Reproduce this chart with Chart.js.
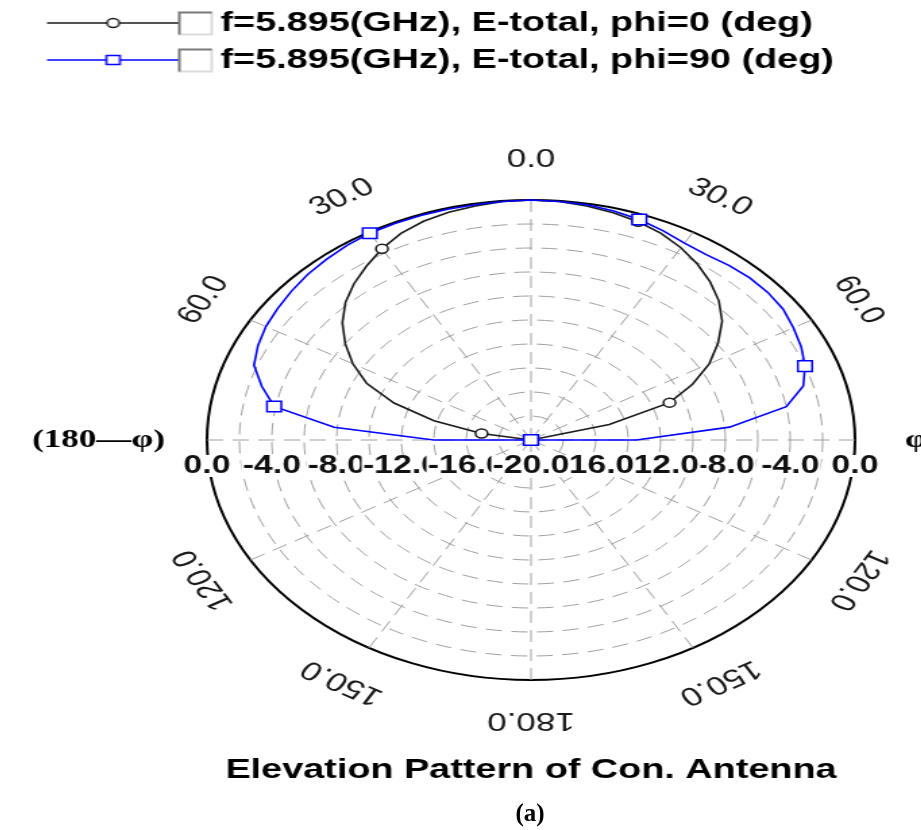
<!DOCTYPE html>
<html>
<head>
<meta charset="utf-8">
<script src="https://cdn.jsdelivr.net/npm/chart.js@4.4.1/dist/chart.umd.min.js"></script>
<style>
  html, body { margin: 0; padding: 0; background: #fff; }
  body { width: 921px; height: 830px; overflow: hidden; position: relative; }
  /* the original plot is stretched sideways, so draw it square and widen it */
  #plot { position: absolute; left: 0; top: 0; transform-origin: 0 0; transform: translateX(31.5px) scaleX(1.35); }
  #caption { position: absolute; left: 430px; width: 200px; top: 798px; text-align: center;
             font-family: "Liberation Serif", "Times New Roman", serif; font-weight: bold;
             font-size: 25px; line-height: 30px; color: #000; }
</style>
</head>
<body>
<canvas id="plot" width="740" height="800"></canvas>
<div id="caption">(a)</div>
<script>
Chart.defaults.font.family = '"Liberation Sans", Arial, sans-serif';

// sample angle, clockwise from top (0..180 = phi side, 185..355 = 180-phi side)
const angles = [
    0,   5,  10,  15,  20,  25,  30,  35,  40,  45,  50,  55,
   60,  65,  70,  75,  80,  85,  90,  95, 100, 105, 110, 115,
  120, 125, 130, 135, 140, 145, 150, 155, 160, 165, 170, 175,
  180, 185, 190, 195, 200, 205, 210, 215, 220, 225, 230, 235,
  240, 245, 250, 255, 260, 265, 270, 275, 280, 285, 290, 295,
  300, 305, 310, 315, 320, 325, 330, 335, 340, 345, 350, 355
];

// E-total in dB, phi = 0 cut
const ePhi0 = [
  0, -0.05, -0.2, -0.4, -0.65, -1.0, -1.5, -2.1, -2.8, -3.6, -4.6, -5.9,
  -7.3, -9.0, -10.9, -15.0, -20, -20, -20, -20, -20, -20, -20, -20,
  -20, -20, -20, -20, -20, -20, -20, -20, -20, -20, -20, -20,
  -20, -20, -20, -20, -20, -20, -20, -20, -20, -20, -20, -20,
  -20, -20, -20, -20, -20, -20, -20, -20, -16.9, -13.8, -11.0, -8.8,
  -7.3, -6.0, -4.8, -3.8, -3.0, -2.3, -1.6, -1.0, -0.6, -0.35, -0.2, -0.05
];

// E-total in dB, phi = 90 cut
const ePhi90 = [
  0, -0.05, -0.1, -0.25, -0.45, -0.75, -1.05, -1.15, -1.0, -0.9, -0.9, -1.0,
  -1.3, -1.6, -2.0, -2.6, -4.0, -7.7, -13.5, -20, -20, -20, -20, -20,
  -20, -20, -20, -20, -20, -20, -20, -20, -20, -20, -20, -20,
  -20, -20, -20, -20, -20, -20, -20, -20, -20, -20, -20, -20,
  -20, -20, -20, -20, -20, -20, -14, -7.8, -3.9, -2.8, -1.8, -1.4,
  -1.1, -0.9, -0.7, -0.5, -0.35, -0.2, -0.1, -0.1, -0.1, -0.1, -0.1, -0.05
];

const markerAngles = [20, 70, 120, 170, 180, 230, 280, 330];
const seriesNames = ['f=5.895(GHz), E-total, phi=0 (deg)', 'f=5.895(GHz), E-total, phi=90 (deg)'];

const angleTickAngles = [0, 30, 60, 120, 150, 180, 210, 240, 300, 330];
const angleTickText = ['0.0', '30.0', '60.0', '120.0', '150.0', '180.0', '150.0', '120.0', '60.0', '30.0'];
const dbTickValues = [0, -4, -8, -12, -16, -20];
const dbTickText = ['0.0', '-4.0', '-8.0', '-12.0', '-16.0', '-20.0'];

// legend symbol: line + marker + little sunken checkbox
function legendSymbol(color, marker) {
    const c = document.createElement('canvas');
    c.width = 136; c.height = 28;
    const g = c.getContext('2d');
    g.strokeStyle = color;
    g.lineWidth = 1.6;
    g.beginPath(); g.moveTo(12, 14); g.lineTo(109, 14); g.stroke();
    g.fillStyle = '#fff';
    g.lineWidth = 1.5;
    g.beginPath();
    if (marker === 'circle') g.arc(61, 14, 4.5, 0, 2 * Math.PI);
    else g.rect(56, 9.5, 10, 9);
    g.fill(); g.stroke();
    g.fillStyle = '#fff';
    g.fillRect(109, 2.5, 25, 23);
    g.lineWidth = 2;
    g.strokeStyle = '#dcdcdc';
    g.beginPath(); g.moveTo(134, 2.5); g.lineTo(134, 25.5); g.lineTo(109, 25.5); g.stroke();
    g.strokeStyle = '#7a7a7a';
    g.beginPath(); g.moveTo(110, 25.5); g.lineTo(110, 3.5); g.lineTo(134, 3.5); g.stroke();
    return c;
}
const legendSymbols = [legendSymbol('#1a1a1a', 'circle'), legendSymbol('#0000ff', 'rect')];

// rotated angle labels and the dB labels along the horizontal axis
const polarText = {
    id: 'polarText',
    afterDraw(chart) {
        const r = chart.scales.r;
        const ctx = chart.ctx;
        const step = 360 / angles.length;
        ctx.save();
        ctx.fillStyle = '#1a1a1a';
        ctx.textAlign = 'center';
        ctx.textBaseline = 'middle';
        ctx.font = '26px "Liberation Sans", Arial, sans-serif';
        angleTickAngles.forEach((a, k) => {
            const p = r.getPointPosition(a / step, r.drawingArea + 40);
            ctx.save();
            ctx.translate(p.x, p.y);
            ctx.rotate(a * Math.PI / 180);
            ctx.fillText(angleTickText[k], 0, 0);
            ctx.restore();
        });

        ctx.fillStyle = '#000';
        ctx.font = 'bold 26px "Liberation Serif", "Times New Roman", serif';
        let p = r.getPointPosition(90 / step, r.drawingArea + 37);
        ctx.textAlign = 'left';
        ctx.fillText('φ', p.x, p.y);
        p = r.getPointPosition(270 / step, r.drawingArea + 31);
        ctx.textAlign = 'right';
        ctx.fillText('(180—φ)', p.x, p.y);

        // white backdrops make them overlap like in the original
        ctx.font = 'bold 25px "Liberation Sans", Arial, sans-serif';
        ctx.textAlign = 'center';
        const drawDb = (text, x, y) => {
            const w = ctx.measureText(text).width;
            ctx.fillStyle = '#fff';
            ctx.fillRect(x - w / 2 - 1, y - 11, w + 2, 22);
            ctx.fillStyle = '#111';
            ctx.fillText(text, x, y);
        };
        [270, 90].forEach(side => {
            dbTickValues.forEach((v, k) => {
                if (v === r.min) return;
                const q = r.getPointPosition(side / step, r.getDistanceFromCenterForValue(v));
                drawDb(dbTickText[k], q.x, q.y + 26);
            });
        });
        drawDb(dbTickText[dbTickValues.indexOf(r.min)], r.xCenter, r.yCenter + 26);
        ctx.restore();
    }
};

const isMarker = ctx => markerAngles.includes(angles[ctx.dataIndex]);

new Chart(document.getElementById('plot'), {
    type: 'radar',
    data: {
        labels: angles,
        datasets: [
            {
                label: seriesNames[0],
                data: ePhi0,
                borderColor: '#1a1a1a',
                pointStyle: 'circle',
                pointRadius: ctx => isMarker(ctx) ? 4.5 : 0,
                order: 1
            },
            {
                label: seriesNames[1],
                data: ePhi90,
                borderColor: '#0000ff',
                pointStyle: 'rect',
                pointRadius: ctx => isMarker(ctx) ? 7.5 : 0,
                order: 0
            }
        ]
    },
    options: {
        responsive: false,
        animation: false,
        devicePixelRatio: 1,
        events: [],
        layout: { padding: 0 },
        elements: {
            line: { borderWidth: 1.6, fill: false, tension: 0 },
            point: { backgroundColor: '#fff', borderWidth: 1.5, hoverRadius: 0 }
        },
        plugins: {
            tooltip: { enabled: false },
            legend: {
                position: 'top',
                align: 'start',
                labels: {
                    usePointStyle: true,
                    pointStyleWidth: 117,
                    padding: 9,
                    color: '#000',
                    font: { size: 28, weight: 'bold' },
                    sort: (a, b) => a.datasetIndex - b.datasetIndex,
                    generateLabels: chart => Chart.defaults.plugins.legend.labels.generateLabels(chart)
                        .map(item => ({ ...item, pointStyle: legendSymbols[item.datasetIndex] }))
                }
            },
            // empty spacer between legend and plot
            subtitle: {
                display: true, text: '', position: 'top', weight: 500,
                font: { size: 10 }, padding: { top: 104.5, bottom: 0 }
            },
            title: {
                display: true,
                position: 'bottom',
                text: 'Elevation Pattern of Con. Antenna',
                color: '#000',
                font: { size: 28, weight: 'bold' },
                padding: { top: 72.7, bottom: 13.2 }
            }
        },
        scales: {
            r: {
                min: -20,
                max: 0,
                startAngle: 0,
                ticks: { display: false, stepSize: 2 },
                pointLabels: { display: false },
                grid: {
                    circular: true,
                    color: c => c.tick.value === 0 ? '#000' : '#a0a0a0',
                    lineWidth: c => c.tick.value === 0 ? 2 : 1
                },
                border: { dash: c => (c.tick && c.tick.value === 0) ? [] : [12, 7] },
                angleLines: {
                    display: true,
                    color: c => angles[c.index] % 30 === 0 ? '#a0a0a0' : 'transparent',
                    lineWidth: 1,
                    borderDash: [12, 7]
                }
            }
        }
    },
    plugins: [polarText]
});
</script>
</body>
</html>
